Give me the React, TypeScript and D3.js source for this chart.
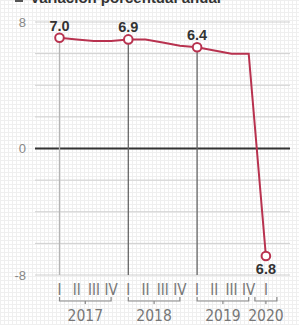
import React from "react";
import * as d3 from "d3";

const quarters = ["I", "II", "III", "IV", "I", "II", "III", "IV", "I", "II", "III", "IV", "I"];
const years = ["2017", "2018", "2019", "2020"];
const yearQuarterCount = [4, 4, 4, 1];
const values = [7.0, 6.9, 6.8, 6.8, 6.9, 6.9, 6.7, 6.5, 6.4, 6.2, 6.0, 6.0, -6.8];
const labelled = [0, 4, 8, 12];
const labelText = ["7.0", "6.9", "6.4", "6.8"];
const yTicks = [8, 0, -8];
const gridValues = [-8, -6, -4, -2, 2, 4, 6, 8];
const title = "Variación porcentual anual";

const W = 299;
const H = 325;
const RED = "#b8324f";
const NARROW = "'Liberation Sans Narrow', 'DejaVu Sans Condensed', 'Arial Narrow', sans-serif";

export default function App() {
  const x = d3.scaleLinear().domain([0, 12]).range([59.5, 265.9]);
  const y = d3.scaleLinear().domain([-8, 8]).range([275, 22]);
  const line = d3
    .line<number>()
    .x((_, i) => x(i))
    .y((d) => y(d));

  let start = 0;
  const brackets = years.map((yr, k) => {
    const s = start;
    const e = start + yearQuarterCount[k] - 1;
    start += yearQuarterCount[k];
    return { yr, s, e };
  });

  return (
    <svg
      width={W}
      height={H}
      style={{ position: "absolute", left: 0, top: 0, background: "#fff" }}
    >
      <defs>
        <pattern id="bg" width="4" height="4" patternUnits="userSpaceOnUse">
          <rect width="4" height="4" fill="#fff" />
          <rect x="0" y="0" width="4" height="1" fill="#efefef" />
          <rect x="0" y="0" width="1" height="4" fill="#efefef" />
        </pattern>
      </defs>
      <rect width={W} height={H} fill="url(#bg)" />

      {/* title */}
      <rect x={15} y={-6} width={8} height={8} fill="#555" />
      <text
        x={30}
        y={3}
        fontFamily="'Liberation Sans', Arial, sans-serif"
        fontWeight="bold"
        fontSize={15}
        fill="#333"
      >
        {title}
      </text>

      {/* grid */}
      {gridValues.map((v) => (
        <line key={v} x1={35} x2={290} y1={y(v)} y2={y(v)} stroke="#cfcfcf" strokeWidth={1} />
      ))}
      <line x1={35} x2={290} y1={y(0)} y2={y(0)} stroke="#333" strokeWidth={2} />

      {yTicks.map((v) => (
        <text
          key={v}
          x={26}
          y={y(v) + 4.5}
          textAnchor="end"
          fontFamily="'Liberation Sans', Arial, sans-serif"
          fontSize={13}
          fill="#888"
        >
          {v}
        </text>
      ))}

      {/* vertical lines at Q1 */}
      {labelled.slice(0, 3).map((i, k) => (
        <line
          key={i}
          x1={x(i)}
          x2={x(i)}
          y1={y(values[i])}
          y2={y(-8)}
          stroke={k === 0 ? "#b5b5b5" : "#666"}
          strokeWidth={1.3}
        />
      ))}

      {/* line */}
      <path d={line(values) || ""} fill="none" stroke={RED} strokeWidth={2} />
      {labelled.map((i) => (
        <circle key={i} cx={x(i)} cy={y(values[i])} r={4.3} fill="#fff" stroke={RED} strokeWidth={2} />
      ))}
      {labelled.map((i, k) => (
        <text
          key={"l" + i}
          x={x(i)}
          y={values[i] < 0 ? y(values[i]) + 18 : y(values[i]) - 7}
          textAnchor="middle"
          fontFamily="'Liberation Sans', Arial, sans-serif"
          fontWeight="bold"
          fontSize={14.5}
          fill="#333"
        >
          {labelText[k]}
        </text>
      ))}

      {/* quarter labels */}
      {quarters.map((q, i) => (
        <text
          key={"q" + i}
          x={x(i)}
          y={295}
          textAnchor="middle"
          fontFamily={NARROW}
          fontSize={15}
          fill="#777"
        >
          {q}
        </text>
      ))}

      {/* year brackets */}
      {brackets.map(({ yr, s, e }) => {
        const x1 = s === e ? x(s) - 11 : x(s);
        const x2 = s === e ? x(e) + 11 : x(e);
        const cx = (x1 + x2) / 2;
        return (
          <g key={yr}>
            <path
              d={`M${x1},297 V301 H${x2} V297 M${cx},301 V304`}
              fill="none"
              stroke="#888"
              strokeWidth={1.2}
            />
            <text
              x={cx}
              y={321}
              textAnchor="middle"
              fontFamily={NARROW}
              fontSize={15.5}
              fill="#777"
            >
              {yr}
            </text>
          </g>
        );
      })}
    </svg>
  );
}
